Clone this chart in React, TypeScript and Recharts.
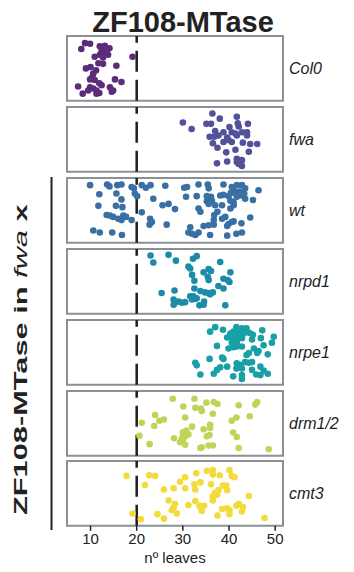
import React from 'react'
import { ScatterChart, Scatter, XAxis, YAxis, ReferenceArea, ReferenceLine } from 'recharts'

// leaf counts, with the vertical jitter (0 = bottom, 1 = top of a panel)
const col0Leaves = [8.8, 9.9, 8.0, 12.0, 13.1, 14.1, 12.4, 13.5, 12.7, 12.0, 13.8, 10.9, 12.7, 19.1, 11.7, 12.7, 15.6, 9.0, 10.0, 11.2, 10.6, 10.4, 9.9, 10.9, 15.3, 16.7, 11.9, 12.4, 7.3, 9.9, 10.6, 11.3, 14.2, 14.9, 8.3, 11.3, 11.9, 14.6, 9.5]
const col0Jitter = [0.89, 0.88, 0.80, 0.84, 0.85, 0.81, 0.77, 0.76, 0.72, 0.71, 0.71, 0.68, 0.67, 0.68, 0.58, 0.57, 0.54, 0.50, 0.52, 0.47, 0.42, 0.37, 0.33, 0.32, 0.33, 0.29, 0.27, 0.24, 0.22, 0.21, 0.19, 0.16, 0.21, 0.16, 0.11, 0.11, 0.12, 0.14, 0.16]

const fwaLeaves = [30.0, 31.9, 36.4, 38.0, 41.7, 35.1, 36.1, 41.9, 44.1, 42.1, 40.1, 38.8, 40.6, 42.8, 43.9, 41.4, 37.0, 35.8, 36.8, 37.7, 39.6, 41.7, 43.9, 36.5, 38.8, 39.9, 40.6, 43.0, 44.6, 46.1, 37.5, 39.4, 41.4, 44.3, 37.4, 39.6, 41.7, 42.8, 42.1, 42.8, 41.7]
const fwaJitter = [0.76, 0.66, 0.90, 0.82, 0.85, 0.74, 0.74, 0.75, 0.74, 0.70, 0.69, 0.61, 0.61, 0.61, 0.61, 0.59, 0.63, 0.54, 0.54, 0.56, 0.53, 0.56, 0.56, 0.44, 0.46, 0.49, 0.46, 0.45, 0.43, 0.43, 0.37, 0.30, 0.34, 0.31, 0.13, 0.16, 0.20, 0.18, 0.12, 0.09, 0.15]

const wtLeaves = [
  9.9, 13.6, 14.1, 15.8, 16.7, 18.9, 19.4, 21.1, 22.0, 23.0,
  26.2, 30.3, 30.9, 33.4, 35.4, 35.6, 38.8, 40.6, 41.7, 42.8,
  43.5, 46.4, 41.0, 42.3, 11.9, 15.6, 16.7, 19.6, 20.1, 23.6,
  30.7, 33.0, 35.2, 36.1, 35.2, 36.3, 38.1, 38.8, 39.9, 40.4,
  41.4, 41.7, 42.8, 43.3, 43.5, 45.2, 40.3, 41.0, 35.6, 37.0,
  11.7, 15.5, 16.9, 25.6, 26.9, 28.3, 33.4, 33.8, 38.5, 40.3,
  41.0, 37.5, 36.8, 21.1, 13.5, 14.2, 14.9, 16.0, 17.1, 17.7,
  16.7, 18.9, 22.9, 23.3, 36.7, 38.5, 39.2, 44.6, 39.9, 40.6,
  41.0, 42.7, 22.8, 26.5, 31.6, 34.5, 35.6, 36.7, 10.6, 12.0,
  14.7, 16.8, 31.2, 32.0, 32.7, 33.4, 35.9, 39.6, 41.6, 42.8,
  39.6,
]
const wtJitter = [
  0.89, 0.90, 0.87, 0.89, 0.90, 0.86, 0.84, 0.89, 0.85, 0.89,
  0.88, 0.85, 0.86, 0.90, 0.90, 0.84, 0.90, 0.86, 0.89, 0.89,
  0.84, 0.81, 0.81, 0.79, 0.75, 0.76, 0.67, 0.76, 0.72, 0.68,
  0.71, 0.72, 0.72, 0.71, 0.64, 0.65, 0.73, 0.74, 0.72, 0.77,
  0.76, 0.71, 0.73, 0.76, 0.68, 0.66, 0.65, 0.63, 0.60, 0.58,
  0.57, 0.57, 0.55, 0.58, 0.60, 0.52, 0.53, 0.48, 0.58, 0.53,
  0.58, 0.48, 0.43, 0.47, 0.43, 0.42, 0.40, 0.37, 0.42, 0.40,
  0.35, 0.35, 0.37, 0.32, 0.35, 0.37, 0.40, 0.39, 0.29, 0.32,
  0.33, 0.30, 0.28, 0.28, 0.24, 0.26, 0.27, 0.28, 0.19, 0.16,
  0.16, 0.12, 0.16, 0.14, 0.12, 0.16, 0.12, 0.11, 0.14, 0.16,
  0.26,
]

const nrpd1Leaves = [
  23.0, 26.9, 23.6, 28.5, 32.2, 33.0, 38.1, 31.2, 31.6, 34.5,
  35.6, 36.1, 40.3, 32.0, 35.4, 35.6, 38.8, 39.7, 40.1, 32.5,
  37.7, 38.8, 28.2, 32.5, 33.8, 34.8, 35.6, 36.5, 25.4, 31.6,
  32.3, 33.0, 28.0, 29.1, 28.3, 29.8, 30.5, 32.0, 32.7, 28.0,
  34.6, 34.5, 33.6, 39.2, 35.9,
]
const nrpd1Jitter = [
  0.90, 0.91, 0.79, 0.82, 0.85, 0.89, 0.80, 0.73, 0.70, 0.64,
  0.69, 0.66, 0.64, 0.60, 0.57, 0.52, 0.54, 0.52, 0.49, 0.51,
  0.43, 0.39, 0.36, 0.39, 0.35, 0.33, 0.32, 0.33, 0.32, 0.27,
  0.27, 0.24, 0.22, 0.19, 0.17, 0.17, 0.18, 0.22, 0.23, 0.14,
  0.19, 0.14, 0.13, 0.13, 0.30,
]

const nrpe1Leaves = [
  37.0, 38.7, 35.9, 41.6, 42.8, 43.8, 41.0, 42.1, 40.3, 43.2,
  44.5, 45.2, 47.2, 39.6, 40.6, 41.6, 42.8, 45.0, 46.9, 49.7,
  41.7, 40.6, 49.3, 37.4, 39.9, 41.0, 41.7, 42.8, 45.4, 47.5,
  44.3, 43.8, 46.4, 46.1, 48.4, 38.5, 38.8, 35.8, 43.5, 44.3,
  45.0, 32.7, 33.0, 41.7, 42.5, 39.6, 38.1, 37.4, 46.8, 41.6,
  42.8, 45.0, 47.5, 36.7, 33.8, 40.9, 42.8, 42.8, 45.9, 46.8,
  48.4,
]
const nrpe1Jitter = [
  0.89, 0.85, 0.82, 0.89, 0.87, 0.87, 0.82, 0.80, 0.79, 0.79,
  0.80, 0.77, 0.84, 0.73, 0.73, 0.73, 0.72, 0.70, 0.72, 0.74,
  0.66, 0.65, 0.65, 0.60, 0.56, 0.58, 0.59, 0.59, 0.56, 0.61,
  0.49, 0.46, 0.52, 0.49, 0.47, 0.42, 0.40, 0.40, 0.35, 0.34,
  0.35, 0.34, 0.30, 0.33, 0.31, 0.28, 0.27, 0.23, 0.28, 0.25,
  0.25, 0.23, 0.22, 0.17, 0.16, 0.13, 0.15, 0.09, 0.16, 0.15,
  0.17,
]

const drmLeaves = [
  27.8, 32.5, 30.1, 32.7, 35.1, 36.7, 37.5, 33.9, 34.1, 42.1,
  45.7, 46.1, 24.0, 24.9, 25.9, 30.5, 36.5, 40.6, 41.6, 44.5,
  21.1, 23.8, 32.0, 34.5, 35.9, 35.9, 20.6, 30.0, 30.7, 31.2,
  30.5, 29.8, 28.1, 29.4, 30.5, 35.2, 35.8, 40.9, 41.7, 22.8,
  33.8, 34.1, 35.6, 36.5, 42.1, 48.6, 30.0,
]
const drmJitter = [
  0.88, 0.88, 0.76, 0.74, 0.82, 0.83, 0.80, 0.73, 0.69, 0.78,
  0.79, 0.83, 0.63, 0.54, 0.56, 0.59, 0.65, 0.54, 0.59, 0.61,
  0.51, 0.46, 0.45, 0.41, 0.48, 0.43, 0.31, 0.36, 0.39, 0.33,
  0.30, 0.27, 0.27, 0.21, 0.17, 0.30, 0.32, 0.36, 0.29, 0.18,
  0.12, 0.13, 0.16, 0.16, 0.12, 0.10, 0.25,
]

const cmt3Leaves = [
  17.8, 22.7, 24.0, 21.8, 25.9, 28.0, 29.4, 30.5, 30.5, 32.9,
  32.5, 33.8, 32.7, 35.2, 36.5, 36.5, 38.0, 40.1, 40.6, 41.2,
  36.1, 38.7, 39.4, 37.7, 37.0, 36.5, 37.4, 39.6, 44.3, 26.9,
  28.3, 28.0, 27.6, 31.2, 32.7, 33.6, 34.6, 34.1, 38.5, 39.6,
  40.1, 41.6, 42.1, 43.0, 42.8, 37.5, 40.1, 28.7, 24.5, 25.9,
  19.1, 20.9, 47.7, 36.5, 33.8,
]
const cmt3Jitter = [
  0.77, 0.78, 0.77, 0.63, 0.56, 0.58, 0.68, 0.75, 0.58, 0.81,
  0.64, 0.67, 0.56, 0.85, 0.86, 0.79, 0.78, 0.86, 0.77, 0.75,
  0.64, 0.62, 0.62, 0.55, 0.51, 0.46, 0.48, 0.55, 0.46, 0.39,
  0.34, 0.28, 0.24, 0.32, 0.38, 0.31, 0.31, 0.23, 0.26, 0.27,
  0.24, 0.31, 0.34, 0.29, 0.22, 0.16, 0.18, 0.19, 0.18, 0.11,
  0.19, 0.10, 0.12, 0.39, 0.29,
]

const genotypes = ['Col0', 'fwa', 'wt', 'nrpd1', 'nrpe1', 'drm1/2', 'cmt3']
const leafSeries = [col0Leaves, fwaLeaves, wtLeaves, nrpd1Leaves, nrpe1Leaves, drmLeaves, cmt3Leaves]
const jitterSeries = [col0Jitter, fwaJitter, wtJitter, nrpd1Jitter, nrpe1Jitter, drmJitter, cmt3Jitter]
const colors = ['#5c2c7b', '#52519a', '#3a6fa4', '#1c8ba8', '#19a0a7', '#bfd557', '#f3db3b']
const xTicks = [10, 20, 30, 40, 50]
const floweringCutoff = 20

const FONT = '"Liberation Sans", Arial, sans-serif'
const X_MIN = 4.9
const X_MAX = 51.7
const PANEL_TOP = 36
const PANEL_PITCH = 70.9
const PANEL_H = 64.8
const PAD = 2

function Panel({ index }: { index: number }) {
  const last = index === genotypes.length - 1
  const leaves = leafSeries[index]
  const jitter = jitterSeries[index]
  const data = leaves.map((x, i) => ({ x, y: jitter[i] }))
  const color = colors[index]
  const axisH = 44

  return (
    <div style={{ position: 'absolute', left: 0, top: PANEL_TOP + index * PANEL_PITCH - PAD }}>
      <ScatterChart
        width={354}
        height={PANEL_H + PAD + (last ? axisH : PAD)}
        margin={{ top: PAD, right: 71, bottom: last ? 0 : PAD, left: 67 }}
      >
        <XAxis
          type="number"
          dataKey="x"
          domain={[X_MIN, X_MAX]}
          ticks={xTicks}
          allowDataOverflow
          hide={!last}
          height={axisH}
          axisLine={false}
          tickSize={5}
          tickMargin={3}
          tickLine={{ stroke: '#222', strokeWidth: 1.5 }}
          tick={{ fill: '#222', fontSize: 15, fontFamily: FONT }}
        />
        <YAxis type="number" dataKey="y" domain={[0, 1]} hide />
        <ReferenceArea
          x1={X_MIN}
          x2={X_MAX}
          y1={0}
          y2={1}
          fill="#fff"
          fillOpacity={1}
          stroke="#8b9094"
          strokeWidth={2}
          label={{
            value: genotypes[index],
            position: 'right',
            offset: 6,
            fill: '#222',
            fontSize: 16,
            fontStyle: 'italic',
            fontFamily: FONT,
          }}
        />
        <ReferenceLine x={floweringCutoff} stroke="#1e1e1e" strokeWidth={2.5} strokeDasharray="21 8" />
        <Scatter
          data={data}
          isAnimationActive={false}
          shape={(p: any) => <circle cx={p.cx} cy={p.cy} r={3.3} fill={color} />}
        />
      </ScatterChart>
    </div>
  )
}

export default function App() {
  return (
    <div style={{ position: 'absolute', left: 0, top: 0, width: 354, height: 572, background: '#fff', fontFamily: FONT }}>
      {genotypes.map((g, i) => (
        <Panel key={g} index={i} />
      ))}
      <svg width={354} height={572} style={{ position: 'absolute', left: 0, top: 0, pointerEvents: 'none' }}>
        <text x={183} y={31.5} textAnchor="middle" fontFamily={FONT} fontWeight="bold" fontSize={29} fill="#222">
          ZF108-MTase
        </text>
        {/* the side label is drawn stretched along its length, as in the figure */}
        <text
          transform="translate(27,515) rotate(-90) scale(1.71,1)"
          fontFamily={FONT}
          fontSize={18}
          fontWeight="bold"
          fill="#222"
        >
          ZF108-MTase in <tspan fontStyle="italic" fontWeight="normal">fwa</tspan> x
        </text>
        <line x1={51.5} x2={51.5} y1={177} y2={530} stroke="#222" strokeWidth={2} />
        <text x={175} y={563} textAnchor="middle" fontFamily={FONT} fontSize={15} fill="#222">
          nº leaves
        </text>
      </svg>
    </div>
  )
}
